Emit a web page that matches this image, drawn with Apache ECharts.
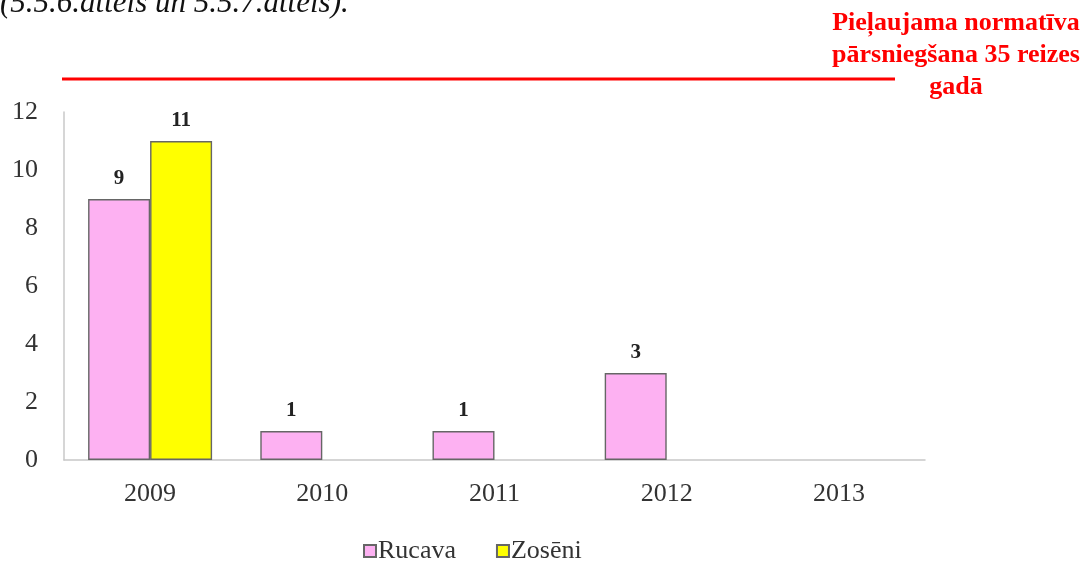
<!DOCTYPE html>
<html>
<head>
<meta charset="utf-8">
<script src="https://cdn.jsdelivr.net/npm/echarts@6/dist/echarts.min.js"></script>
<style>
  html, body { margin: 0; padding: 0; background: #fff; }
  #chart { width: 1087px; height: 562px; }
</style>
</head>
<body>
<div id="chart"></div>
<script>
// Reizes, kad pārsniegts normatīvs, pa gadiem
const years = ['2009', '2010', '2011', '2012', '2013'];
const rucava = [9, 1, 1, 3, 0];
const zoseni = [11, 0, 0, 0, 0];
const yTicks = { min: 0, max: 12, interval: 2 };

const serif = '"Liberation Serif", "DejaVu Serif", serif';

// zero counts are left empty (no bar outline, no label)
const asBars = arr => arr.map(v => (v > 0 ? v : '-'));

const chart = echarts.init(document.getElementById('chart'));

const barLabel = {
  show: true,
  position: 'top',
  distance: 10,
  fontFamily: serif,
  fontWeight: 'bold',
  fontSize: 21,
  color: '#222'
};

chart.setOption({
  animation: false,
  backgroundColor: '#fff',
  grid: { left: 64, right: 162, top: 112, bottom: 102 },
  legend: {
    top: 538,
    left: 363,
    padding: 0,
    itemWidth: 12,
    itemHeight: 12,
    itemGap: 40,
    icon: 'rect',
    textStyle: { fontFamily: serif, fontSize: 26, color: '#333', padding: [0, 0, 0, -3] },
    data: ['Rucava', 'Zosēni']
  },
  xAxis: {
    type: 'category',
    data: years,
    axisLine: { lineStyle: { color: '#c8c8c8', width: 1.5 } },
    axisTick: { show: false },
    axisLabel: { fontFamily: serif, fontSize: 26, color: '#333', margin: 21 }
  },
  yAxis: {
    type: 'value',
    min: yTicks.min,
    max: yTicks.max,
    interval: yTicks.interval,
    axisLine: { show: true, lineStyle: { color: '#c8c8c8', width: 1.5 } },
    axisTick: { show: false },
    splitLine: { show: false },
    axisLabel: { fontFamily: serif, fontSize: 26, color: '#333', margin: 26 }
  },
  series: [
    {
      name: 'Rucava',
      type: 'bar',
      data: asBars(rucava),
      barWidth: 62,
      barGap: '0%',
      itemStyle: { color: '#fdb1f2', borderColor: '#666', borderWidth: 1.4 },
      label: barLabel
    },
    {
      name: 'Zosēni',
      type: 'bar',
      data: asBars(zoseni),
      barWidth: 62,
      barGap: '0%',
      itemStyle: { color: '#ffff00', borderColor: '#666', borderWidth: 1.4 },
      label: barLabel
    }
  ],
  graphic: [
    {
      type: 'text',
      style: {
        x: 0,
        y: 19,
        verticalAlign: 'bottom',
        text: '(5.5.6.attēls un 5.5.7.attēls).',
        fontFamily: serif,
        fontStyle: 'italic',
        fontSize: 31,
        fill: '#111'
      }
    },
    {
      type: 'line',
      shape: { x1: 62, y1: 79, x2: 895, y2: 79 },
      style: { stroke: '#ff0000', lineWidth: 3 }
    },
    {
      type: 'text',
      style: {
        x: 956,
        y: 7,
        text: 'Pieļaujama normatīva\npārsniegšana 35 reizes\ngadā',
        fontFamily: serif,
        fontWeight: 'bold',
        fontSize: 26,
        lineHeight: 32,
        fill: '#ff0000',
        align: 'center',
        verticalAlign: 'top'
      }
    }
  ]
});
</script>
</body>
</html>
